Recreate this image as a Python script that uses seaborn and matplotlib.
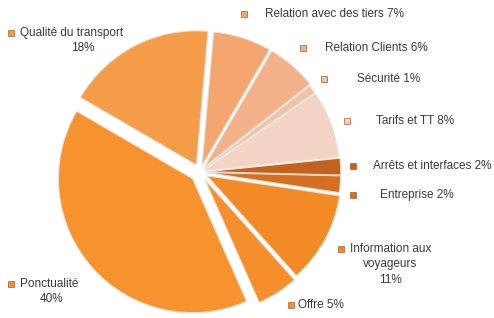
import matplotlib
matplotlib.use("Agg")
import matplotlib.pyplot as plt
import seaborn as sns

# %% Data (clockwise from the top)
categories = ["Relation avec des tiers", "Relation Clients", "Sécurité", "Tarifs et TT",
              "Arrêts et interfaces", "Entreprise", "Information aux voyageurs",
              "Offre", "Ponctualité", "Qualité du transport"]
shares = [7, 6, 1, 8, 2, 2, 11, 5, 40, 18]
labels = ["Relation avec des tiers 7%", "Relation Clients 6%", "Sécurité 1%",
          "Tarifs et TT 8%", "Arrêts et interfaces 2%", "Entreprise 2%",
          "Information aux\nvoyageurs\n11%", "Offre 5%", "Ponctualité\n40%",
          "Qualité du transport\n18%"]

colors = ["#F4A66E", "#F2B189", "#EFC3A6", "#F3D3C3", "#C4611C",
          "#D56F22", "#F28B25", "#F48F2C", "#F7932D", "#F49C48"]
explode = [0.05, 0.05, 0.04, 0.04, 0.05, 0.05, 0.06, 0.07, 0.075, 0.06]

# label anchor points in pixels (marker x, y, text x, alignment)
label_pos = [(244, 14, 265, "left"), (303, 48, 325, "left"), (324, 79, 357, "left"),
             (347, 121, 376, "left"), (353, 166, 373, "left"), (353, 195, 380, "left"),
             (341, 249, 390, "center"), (291, 305, 298, "left"), (11, 284, 51, "center"),
             (11, 33, 83, "center")]

# %% Plot
sns.set_style("white")
plt.rcParams["font.family"] = ["Liberation Sans", "DejaVu Sans"]

W, H = 494, 318
fig = plt.figure(figsize=(W / 100, H / 100), dpi=100)
ax = fig.add_axes([0, 0, 1, 1])

wedges, _ = ax.pie(shares, colors=colors, explode=explode, startangle=85,
                   counterclock=False,
                   wedgeprops=dict(edgecolor="#E8DDD4", linewidth=0.8))

# place the pie: centre at (200, 172) px, radius ~134 px
scale = 134.0
cx, cy = 200, 172
ax.set_aspect("auto")
ax.set_xlim(-cx / scale, (W - cx) / scale)
ax.set_ylim(-(H - cy) / scale, cy / scale)
ax.axis("off")

txt_color = "#3A3A3A"
fs = 8.5
for lab, col, (mx, my, tx, ha) in zip(labels, colors, label_pos):
    ax.plot(mx / W, 1 - my / H, marker="s", ms=4.5, color=col,
            markeredgecolor="#A0602A", markeredgewidth=0.5,
            transform=fig.transFigure, clip_on=False)
    if ha == "center":
        first, rest = lab.split("\n", 1)
        # first line starts right after the marker, the rest is centred below
        fig.text((mx + 9) / W, 1 - my / H, first, ha="left", va="center",
                 fontsize=fs, color=txt_color)
        fig.text(tx / W, 1 - (my + 9) / H, rest, ha="center", va="top",
                 fontsize=fs, color=txt_color, linespacing=1.4)
    else:
        fig.text(tx / W, 1 - my / H, lab, ha="left", va="center",
                 fontsize=fs, color=txt_color)

fig.savefig("out.png", dpi=100)
